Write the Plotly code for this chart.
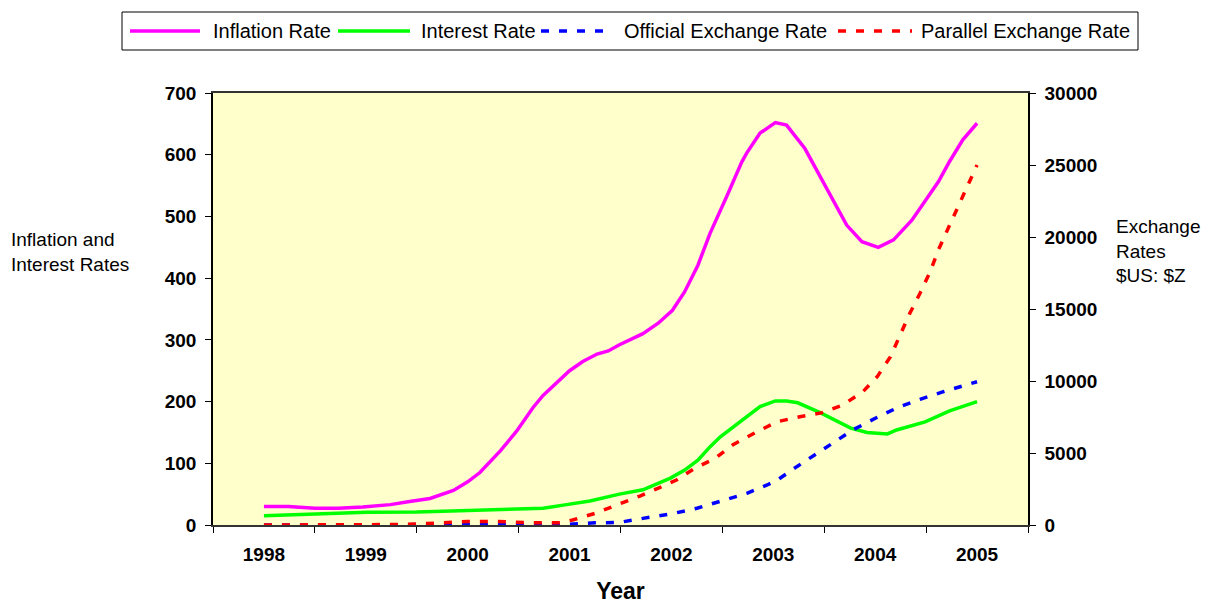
import plotly.graph_objects as go

# ---- data ----
years = [1998, 1999, 2000, 2001, 2002, 2003, 2004, 2005]
year_labels = ["1998", "1999", "2000", "2001", "2002", "2003", "2004", "2005"]

inflation_t = [1998.0, 1998.24, 1998.5, 1998.73, 1998.97, 1999.24, 1999.43, 1999.63, 1999.86, 2000.0,
               2000.12, 2000.32, 2000.48, 2000.64, 2000.74, 2000.88, 2001.0, 2001.13, 2001.27, 2001.38,
               2001.49, 2001.72, 2001.87, 2002.01, 2002.13, 2002.26, 2002.38, 2002.55, 2002.69, 2002.74,
               2002.87, 2003.02, 2003.13, 2003.31, 2003.46, 2003.59, 2003.72, 2003.87, 2004.03, 2004.18,
               2004.36, 2004.62, 2004.73, 2004.86, 2005.0]
inflation_v = [30, 30, 27, 27, 29, 33, 38, 43, 56, 70,
               85, 120, 152, 190, 210, 232, 250, 265, 277, 282,
               292, 310, 327, 348, 378, 421, 473, 535, 588, 603,
               635, 652, 648, 610, 564, 524, 486, 459, 450, 462,
               494, 556, 589, 624, 651]

interest_t = [1998.0, 1998.68, 1999.01, 1999.5, 2000.0, 2000.74, 2000.97, 2001.2, 2001.49, 2001.72,
              2001.99, 2002.13, 2002.26, 2002.38, 2002.48, 2002.65, 2002.87, 2003.02, 2003.13, 2003.24,
              2003.46, 2003.76, 2003.92, 2004.12, 2004.21, 2004.49, 2004.73, 2005.0]
interest_v = [15, 19, 20.5, 21, 23, 27, 33, 39, 50, 57,
              76, 89, 105, 127, 143, 165, 192, 201, 201, 198,
              182, 157, 150, 147.5, 154, 167, 185, 200]

official_t = [1998.0, 1999.0, 2000.0, 2000.5, 2001.0, 2001.25, 2001.48, 2001.72, 2001.99, 2002.25,
              2002.51, 2002.74, 2002.94, 2003.04, 2003.23, 2003.43, 2003.59, 2003.78, 2004.02, 2004.24,
              2004.44, 2004.67, 2005.0]
official_v = [0, 2, 10, 20, 55, 150, 170, 460, 760, 1160,
              1690, 2200, 2780, 3125, 4050, 4980, 5670, 6600, 7480, 8215,
              8730, 9260, 9950]

parallel_t = [1998.0, 1998.5, 1999.0, 1999.3, 1999.6, 2000.0, 2000.3, 2000.6, 2000.91, 2001.03,
              2001.25, 2001.47, 2001.69, 2001.89, 2002.05, 2002.23, 2002.43, 2002.6, 2002.84, 2003.04,
              2003.26, 2003.48, 2003.68, 2003.88, 2004.02, 2004.15, 2004.24, 2004.34, 2004.44, 2004.54,
              2004.62, 2004.71, 2004.8, 2004.9, 2005.0]
parallel_v = [0, 0, 0, 30, 100, 250, 250, 150, 160, 350,
              810, 1390, 2010, 2620, 3125, 3940, 4630, 5555, 6480, 7175,
              7520, 7800, 8330, 9260, 10300, 11690, 13080, 14700, 16090, 17590,
              19100, 20490, 21990, 23490, 25000]

left_ticks = [0, 100, 200, 300, 400, 500, 600, 700]
right_ticks = [0, 5000, 10000, 15000, 20000, 25000, 30000]
boundaries = [1997.5 + i for i in range(9)]

series_names = ["Inflation Rate", "Interest Rate", "Official Exchange Rate", "Parallel Exchange Rate"]
series_colors = ["#FF00FF", "#00FF00", "#0000FF", "#FF0000"]
series_dash = ["solid", "solid", "8px,10px", "8px,10px"]

FONT = "Liberation Sans, Arial, sans-serif"

# page offset (browser body margin) and plot area in screen pixels
OFF = 8
PAGE_W, PAGE_H = 1209, 604
L, R, T, B = 213, 1028, 93, 525
W, H = R - L, B - T
def px(xp):
    return (xp - L) / W
def py(yp):
    return (B - yp) / H

fig = go.Figure()
series = [(inflation_t, inflation_v, "y"), (interest_t, interest_v, "y"),
          (official_t, official_v, "y2"), (parallel_t, parallel_v, "y2")]
for (t, v, ax), name, col, dash in zip(series, series_names, series_colors, series_dash):
    fig.add_trace(go.Scatter(x=t, y=v, mode="lines", name=name, yaxis=ax, showlegend=False,
                             line=dict(color=col, width=3.5, dash=dash)))

# legend (drawn by hand to match the reference layout)
shapes = [dict(type="rect", xref="paper", yref="paper", x0=px(122), x1=px(1138), y0=py(50), y1=py(12),
               line=dict(color="black", width=1), fillcolor="white")]
annotations = []
sample_x = [(130, 200), (338, 410), (541, 613), (838, 912)]
text_x = [211, 419, 622, 919]
for (x0, x1), tx, name, col, dash in zip(sample_x, text_x, series_names, series_colors, series_dash):
    shapes.append(dict(type="line", xref="paper", yref="paper", x0=px(x0), x1=px(x1), y0=py(31), y1=py(31),
                       line=dict(color=col, width=3.5, dash=dash)))
    annotations.append(dict(text=name, xref="paper", yref="paper", x=px(tx), y=py(31),
                            xanchor="left", yanchor="middle", showarrow=False,
                            font=dict(size=20, family=FONT)))

annotations += [
    dict(text="Inflation and<br>Interest Rates", xref="paper", yref="paper",
         x=px(9), y=py(252), xanchor="left", yanchor="middle", showarrow=False, align="left",
         font=dict(size=19)),
    dict(text="Exchange<br>Rates<br>$US: $Z", xref="paper", yref="paper",
         x=px(1114), y=py(251), xanchor="left", yanchor="middle", showarrow=False, align="left",
         font=dict(size=19)),
]

fig.update_layout(
    width=PAGE_W - OFF, height=PAGE_H - OFF,
    margin=dict(l=L - OFF, r=PAGE_W - R, t=T - OFF, b=PAGE_H - B),
    paper_bgcolor="white",
    plot_bgcolor="#FFFFCC",
    font=dict(family=FONT, color="black", size=18),
    showlegend=False,
    xaxis=dict(range=[1997.5, 2005.5], tickvals=years, ticktext=year_labels, ticks="",
               showgrid=False, zeroline=False, showline=True, linecolor="#333333", linewidth=1.5,
               mirror=True, automargin=False,
               tickfont=dict(size=19, weight="bold"), ticklabelstandoff=11,
               minor=dict(tickvals=boundaries, ticks="outside", ticklen=6, tickcolor="black", showgrid=False),
               title=dict(text="Year", font=dict(size=23, weight="bold"), standoff=20)),
    yaxis=dict(range=[0, 700], tickvals=left_ticks, ticktext=[str(v) for v in left_ticks],
               ticks="outside", ticklen=6, tickcolor="black", automargin=False,
               showgrid=False, zeroline=False, showline=True, linecolor="black", linewidth=1.5,
               tickfont=dict(size=19, weight="bold"), ticklabelstandoff=5),
    yaxis2=dict(range=[0, 30000], tickvals=right_ticks, ticktext=[str(v) for v in right_ticks],
                overlaying="y", side="right", automargin=False,
                ticks="outside", ticklen=6, tickcolor="black",
                showgrid=False, zeroline=False, showline=True, linecolor="black", linewidth=1.5,
                tickfont=dict(size=19, weight="bold"), ticklabelstandoff=5),
    shapes=shapes,
    annotations=annotations,
)

fig.write_html("out.html")
